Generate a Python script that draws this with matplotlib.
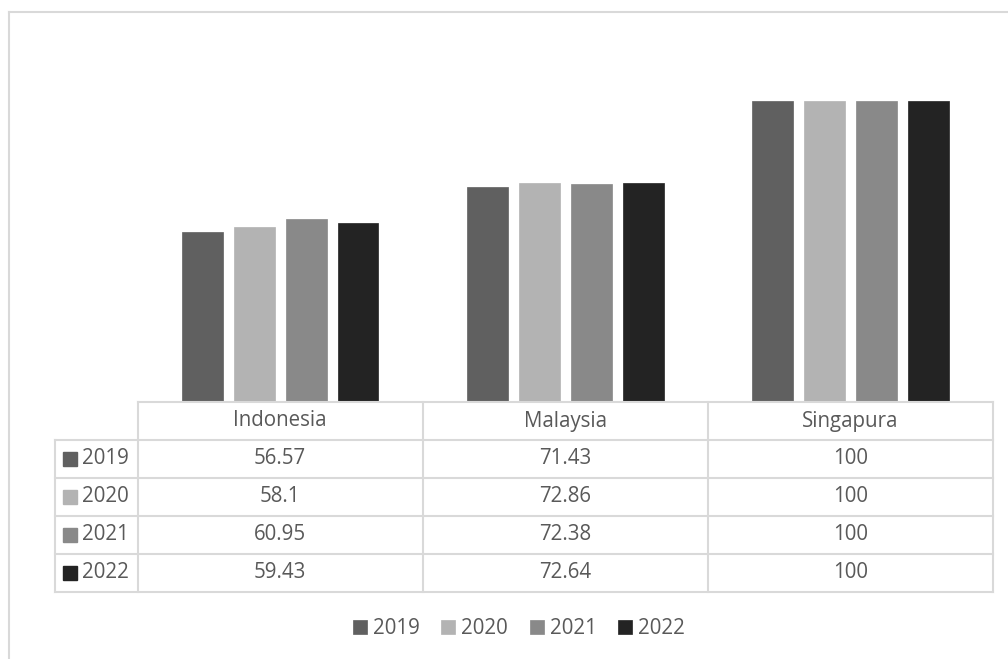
import numpy as np
import matplotlib.pyplot as plt
from matplotlib.patches import Rectangle
from matplotlib.lines import Line2D

plt.rcParams['font.family'] = ['Open Sans', 'DejaVu Sans']

countries = ["Indonesia", "Malaysia", "Singapura"]
years = ["2019", "2020", "2021", "2022"]
values = {
    "2019": [56.57, 71.43, 100],
    "2020": [58.1, 72.86, 100],
    "2021": [60.95, 72.38, 100],
    "2022": [59.43, 72.64, 100],
}
labels = {
    "2019": ["56.57", "71.43", "100"],
    "2020": ["58.1", "72.86", "100"],
    "2021": ["60.95", "72.38", "100"],
    "2022": ["59.43", "72.64", "100"],
}
colors = ["#606060", "#b3b3b3", "#898989", "#232323"]

W, H = 1008, 659
txt = "#595959"
grid = "#d9d9d9"
fs = 14.8

fig = plt.figure(figsize=(W / 100, H / 100), dpi=100)

def fx(px):
    return px / W

def fy(py):
    return 1 - py / H

# outer chart border
fig.add_artist(Line2D([fx(9), fx(9)], [fy(12), 0], color=grid, lw=1.5))
fig.add_artist(Line2D([fx(9), 1], [fy(12), fy(12)], color=grid, lw=1.5))

left, right = 137.5, 993
base, top = 402, 41
ax = fig.add_axes([fx(left), fy(base), fx(right - left), (base - top) / H])
ax.set_xlim(0, 3)
ax.set_ylim(0, 120)
ax.axis("off")

x = np.arange(len(countries)) + 0.5
offsets = [-0.2732, -0.0911, 0.0911, 0.2732]
handles = []
for i, y in enumerate(years):
    b = ax.bar(x + offsets[i], values[y], width=0.1436, color=colors[i],
               edgecolor=colors[i], linewidth=0.5, label=y)
    handles.append(b)

# data table
tab = fig.add_axes([fx(55), fy(592), fx(993 - 55), (592 - 402) / H])
tab.set_xlim(55, 993)
tab.set_ylim(592, 402)
tab.axis("off")
colw = (right - left) / 3
rows = [402 + k * 38 for k in range(6)]
tab.plot([left, right], [rows[0], rows[0]], color=grid, lw=1.5, clip_on=False)
for r in rows[1:]:
    tab.plot([55, right], [r, r], color=grid, lw=1.5, clip_on=False)
tab.plot([55, 55], [rows[1], rows[-1]], color=grid, lw=1.5, clip_on=False)
for k in range(4):
    cx = left + k * colw
    tab.plot([cx, cx], [rows[0], rows[-1]], color=grid, lw=1.5, clip_on=False)

for j, c in enumerate(countries):
    tab.text(left + (j + 0.5) * colw, (rows[0] + rows[1]) / 2, c,
             ha="center", va="center", color=txt, fontsize=fs)
for i, y in enumerate(years):
    cy = (rows[i + 1] + rows[i + 2]) / 2
    tab.add_patch(Rectangle((63, cy - 7), 14, 14, color=colors[i], clip_on=False))
    tab.text(82, cy, y, ha="left", va="center", color=txt, fontsize=fs)
    for j in range(len(countries)):
        tab.text(left + (j + 0.5) * colw, cy, labels[y][j],
                 ha="center", va="center", color=txt, fontsize=fs)

leg = fig.legend(handles=handles, labels=years, loc="center",
                 bbox_to_anchor=(fx(519), fy(629)), ncol=4, frameon=False,
                 fontsize=fs, handlelength=0.68, handleheight=0.68,
                 handletextpad=0.3, columnspacing=1.05, labelcolor=txt)

fig.savefig("out.png", dpi=100)
